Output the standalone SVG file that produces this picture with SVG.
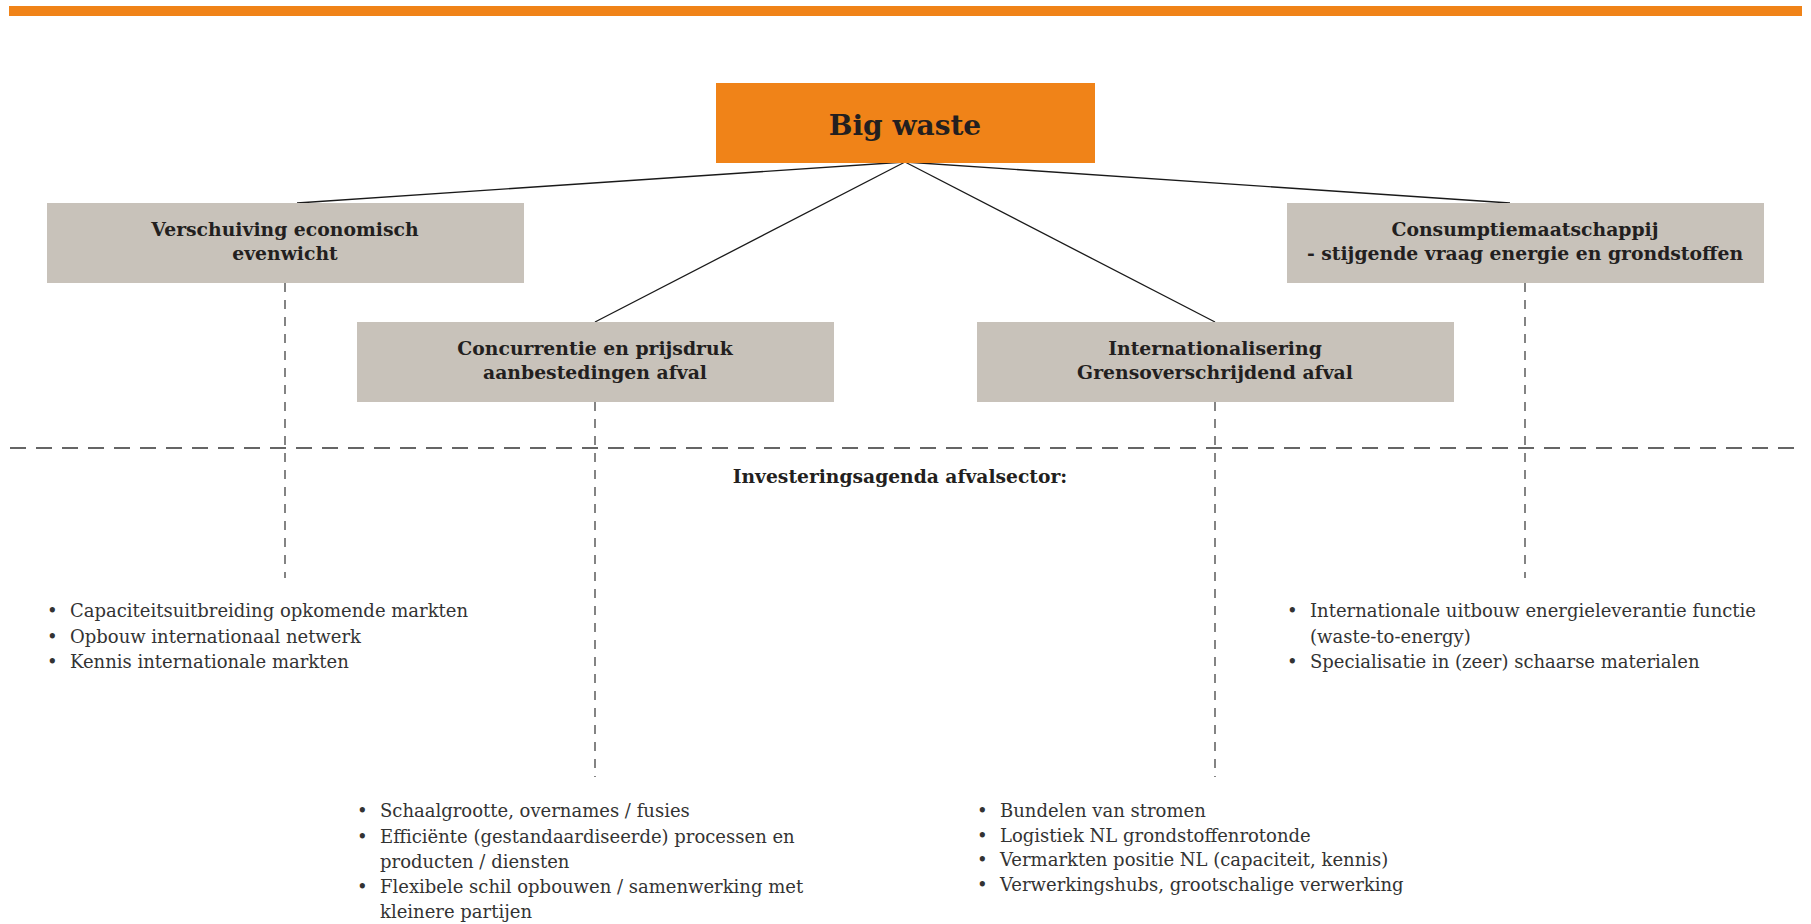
<svg xmlns="http://www.w3.org/2000/svg" width="1811" height="924" viewBox="0 0 1811 924">
  <style>
    .hub { fill: #f08318; }
    .box { fill: #c8c2ba; }
    .title { font-family: "DejaVu Serif", "Liberation Serif", serif; font-weight: bold; fill: #231f20; text-anchor: middle; }
    .body { font-family: "DejaVu Serif", "Liberation Serif", serif; font-size: 18px; fill: #333333; }
    .link { stroke: #1a1a1a; stroke-width: 1.3; fill: none; }
    .vdash { stroke: #333; stroke-width: 1.2; stroke-dasharray: 9 8; fill: none; }
    .hdash { stroke: #333; stroke-width: 1.3; stroke-dasharray: 16 10; fill: none; }
  </style>

  <!-- top band -->
  <rect x="9" y="6" width="1793" height="10" class="hub"/>

  <!-- connectors -->
  <g id="connectors">
    <line class="link" x1="905" y1="162" x2="297" y2="203"/>
    <line class="link" x1="905" y1="162" x2="595" y2="322"/>
    <line class="link" x1="905" y1="162" x2="1215" y2="322"/>
    <line class="link" x1="905" y1="162" x2="1510" y2="203"/>
    <line class="vdash" x1="285" y1="283" x2="285" y2="578"/>
    <line class="vdash" x1="595" y1="402" x2="595" y2="777"/>
    <line class="vdash" x1="1215" y1="402" x2="1215" y2="777"/>
    <line class="vdash" x1="1525" y1="283" x2="1525" y2="578"/>
    <line class="hdash" x1="10" y1="448" x2="1802" y2="448"/>
  </g>

  <g id="big-waste">
    <rect x="716" y="83" width="379" height="80" class="hub"/>
    <text x="905" y="135" class="title" font-size="28">Big waste</text>
  </g>

  <g id="verschuiving">
    <rect x="47" y="203" width="477" height="80" class="box"/>
    <text x="285" y="236" class="title" font-size="18.8">Verschuiving economisch</text>
    <text x="285" y="260" class="title" font-size="18.8">evenwicht</text>
  </g>

  <g id="concurrentie">
    <rect x="357" y="322" width="477" height="80" class="box"/>
    <text x="595" y="355" class="title" font-size="18.8">Concurrentie en prijsdruk</text>
    <text x="595" y="379" class="title" font-size="18.8">aanbestedingen afval</text>
  </g>

  <g id="internationalisering">
    <rect x="977" y="322" width="477" height="80" class="box"/>
    <text x="1215" y="355" class="title" font-size="18.8">Internationalisering</text>
    <text x="1215" y="379" class="title" font-size="18.8">Grensoverschrijdend afval</text>
  </g>

  <g id="consumptie">
    <rect x="1287" y="203" width="477" height="80" class="box"/>
    <text x="1525" y="236" class="title" font-size="18.8">Consumptiemaatschappij</text>
    <text x="1525" y="260" class="title" font-size="18.8">- stijgende vraag energie en grondstoffen</text>
  </g>

  <g id="agenda">
    <text x="900" y="483" class="title" font-size="18.7">Investeringsagenda afvalsector:</text>
  </g>

  <g id="list-verschuiving" class="body">
    <text x="47" y="617">•</text><text x="70" y="617">Capaciteitsuitbreiding opkomende markten</text>
    <text x="47" y="643">•</text><text x="70" y="643">Opbouw internationaal netwerk</text>
    <text x="47" y="668">•</text><text x="70" y="668">Kennis internationale markten</text>
  </g>

  <g id="list-concurrentie" class="body">
    <text x="357" y="817">•</text><text x="380" y="817">Schaalgrootte, overnames / fusies</text>
    <text x="357" y="843">•</text><text x="380" y="843">Efficiënte (gestandaardiseerde) processen en</text>
    <text x="380" y="868">producten / diensten</text>
    <text x="357" y="893">•</text><text x="380" y="893">Flexibele schil opbouwen / samenwerking met</text>
    <text x="380" y="918">kleinere partijen</text>
  </g>

  <g id="list-internationalisering" class="body">
    <text x="977" y="817">•</text><text x="1000" y="817">Bundelen van stromen</text>
    <text x="977" y="842">•</text><text x="1000" y="842">Logistiek NL grondstoffenrotonde</text>
    <text x="977" y="866">•</text><text x="1000" y="866">Vermarkten positie NL (capaciteit, kennis)</text>
    <text x="977" y="891">•</text><text x="1000" y="891">Verwerkingshubs, grootschalige verwerking</text>
  </g>

  <g id="list-consumptie" class="body">
    <text x="1287" y="617">•</text><text x="1310" y="617">Internationale uitbouw energieleverantie functie</text>
    <text x="1310" y="643">(waste-to-energy)</text>
    <text x="1287" y="668">•</text><text x="1310" y="668">Specialisatie in (zeer) schaarse materialen</text>
  </g>
</svg>
